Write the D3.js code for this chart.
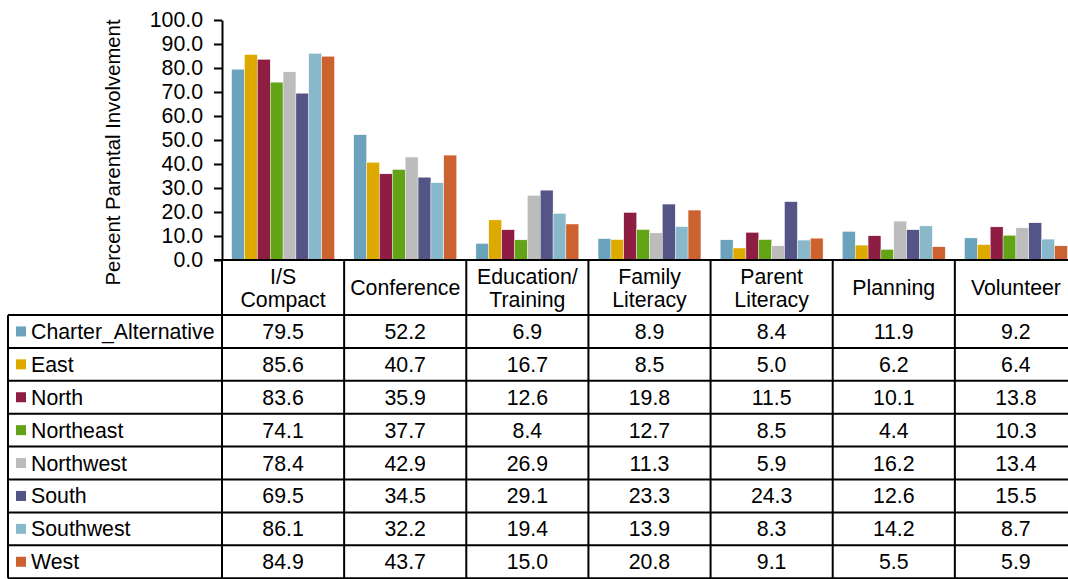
<!DOCTYPE html>
<html>
<head>
<meta charset="utf-8">
<script src="https://cdn.jsdelivr.net/npm/d3@7"></script>
<style>
	body { margin: 0; background: #fff; }
	svg { display: block; font-family: "Liberation Sans", Arial, sans-serif; }
</style>
</head>
<body>
<svg width="1068" height="579"></svg>
<script>
// categories (two-line labels split by \n)
const categories = ['I/S\nCompact', 'Conference', 'Education/\nTraining', 'Family\nLiteracy', 'Parent\nLiteracy', 'Planning', 'Volunteer'];
const seriesNames = ['Charter_Alternative', 'East', 'North', 'Northeast', 'Northwest', 'South', 'Southwest', 'West'];
const seriesColors = ['#6AA3BB', '#DEAA00', '#8E1D44', '#63A417', '#BCBCBC', '#545487', '#88B8CA', '#CB6230'];

const charterAlternative = [79.5, 52.2, 6.9, 8.9, 8.4, 11.9, 9.2];
const east = [85.6, 40.7, 16.7, 8.5, 5.0, 6.2, 6.4];
const north = [83.6, 35.9, 12.6, 19.8, 11.5, 10.1, 13.8];
const northeast = [74.1, 37.7, 8.4, 12.7, 8.5, 4.4, 10.3];
const northwest = [78.4, 42.9, 26.9, 11.3, 5.9, 16.2, 13.4];
const south = [69.5, 34.5, 29.1, 23.3, 24.3, 12.6, 15.5];
const southwest = [86.1, 32.2, 19.4, 13.9, 8.3, 14.2, 8.7];
const west = [84.9, 43.7, 15.0, 20.8, 9.1, 5.5, 5.9];

const seriesValues = [charterAlternative, east, north, northeast, northwest, south, southwest, west];
const yTicks = [0, 10, 20, 30, 40, 50, 60, 70, 80, 90, 100];

function drawChart() {
	const svg = d3.select('svg');
	const left = 222, right = 1077, top = 20, bottom = 260;
	const tableLeft = 8, headerBottom = 315, rowH = 32.9;
	const fs = '21.3px';

	const x0 = d3.scaleBand().domain(d3.range(categories.length)).range([left, right]);
	const x1 = d3.scaleBand().domain(d3.range(seriesNames.length))
		.range([0, x0.bandwidth()]).paddingOuter(0.75);
	const y = d3.scaleLinear().domain([0, 100]).range([bottom, top]);

	// bars
	const groups = svg.append('g').selectAll('g')
		.data(categories).enter().append('g')
		.attr('transform', (d, i) => `translate(${x0(i)},0)`);
	groups.selectAll('rect')
		.data((d, ci) => seriesValues.map((vals, si) => ({si: si, v: vals[ci]})))
		.enter().append('rect')
		.attr('x', d => x1(d.si))
		.attr('width', x1.bandwidth())
		.attr('y', d => y(d.v))
		.attr('height', d => y(0) - y(d.v))
		.attr('fill', d => seriesColors[d.si])
		.attr('stroke', '#fff')
		.attr('stroke-width', 0.4);

	// y axis
	const yAxis = d3.axisLeft(y).tickValues(yTicks).tickFormat(d3.format('.1f'))
		.tickSize(8).tickPadding(11).tickSizeOuter(0);
	const ga = svg.append('g').attr('transform', `translate(${left},0)`).call(yAxis);
	ga.select('.domain').attr('stroke', '#000').attr('stroke-width', 2);
	ga.selectAll('.tick line').attr('stroke', '#000').attr('stroke-width', 2);
	ga.selectAll('.tick text').attr('fill', '#000').style('font-size', fs)
		.style('font-family', '"Liberation Sans", Arial, sans-serif');

	svg.append('text')
		.attr('transform', `translate(120,${(20 + 285) / 2}) rotate(-90)`)
		.attr('text-anchor', 'middle')
		.style('font-size', '20.3px')
		.text('Percent Parental Involvement');

	// data table
	const t = svg.append('g');
	const rowTops = d3.range(seriesNames.length + 1).map(i => headerBottom + i * rowH);
	const lineStyle = sel => sel.attr('stroke', '#000').attr('stroke-width', 2);

	// horizontal lines
	t.append('line').attr('x1', left - 8).attr('x2', right).attr('y1', bottom).attr('y2', bottom).call(lineStyle);
	rowTops.forEach(ry => {
		t.append('line').attr('x1', tableLeft).attr('x2', right).attr('y1', ry).attr('y2', ry).call(lineStyle);
	});
	// vertical lines
	t.append('line').attr('x1', tableLeft).attr('x2', tableLeft)
		.attr('y1', headerBottom).attr('y2', rowTops[rowTops.length - 1]).call(lineStyle);
	d3.range(categories.length + 1).forEach(i => {
		const xx = i < categories.length ? x0(i) : right;
		t.append('line').attr('x1', xx).attr('x2', xx)
			.attr('y1', bottom).attr('y2', rowTops[rowTops.length - 1]).call(lineStyle);
	});

	// header labels
	categories.forEach((c, i) => {
		const lines = c.split('\n');
		const cx = x0(i) + x0.bandwidth() / 2;
		const cy = (bottom + headerBottom) / 2;
		const txt = t.append('text').attr('text-anchor', 'middle').style('font-size', fs);
		lines.forEach((ln, k) => {
			txt.append('tspan').attr('x', cx)
				.attr('y', cy + (k - (lines.length - 1) / 2) * 23 + 7.5)
				.text(ln);
		});
	});

	// rows
	seriesNames.forEach((name, si) => {
		const cy = rowTops[si] + rowH / 2;
		t.append('rect').attr('x', 16).attr('y', cy - 5).attr('width', 10).attr('height', 10)
			.attr('fill', seriesColors[si]);
		t.append('text').attr('x', 31).attr('y', cy + 7.5).style('font-size', fs).text(name);
		seriesValues[si].forEach((v, ci) => {
			t.append('text').attr('x', x0(ci) + x0.bandwidth() / 2).attr('y', cy + 7.5)
				.attr('text-anchor', 'middle').style('font-size', fs)
				.text(d3.format('.1f')(v));
		});
	});
}

drawChart();
</script>
</body>
</html>
